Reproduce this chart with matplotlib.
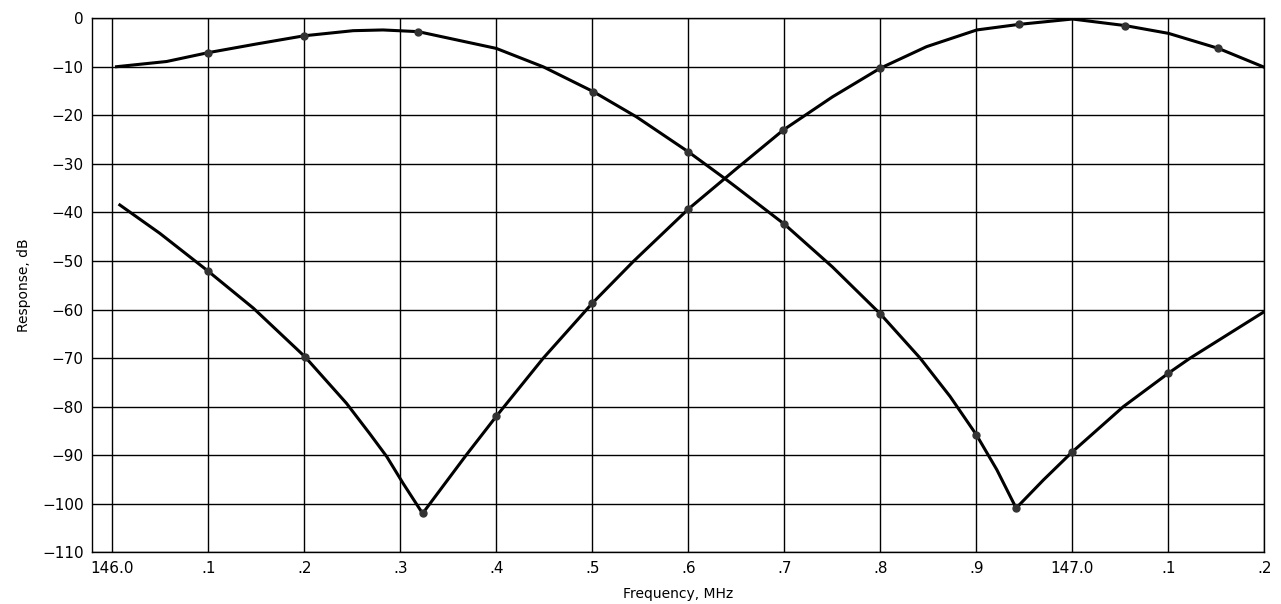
import matplotlib.pyplot as plt

# Curve A: starts near -10 dB, falls to a notch near 146.94 MHz
freq_a = [146.0046, 146.0567, 146.0994, 146.15, 146.2, 146.251, 146.282, 146.3188, 146.4, 146.449,
          146.501, 146.546, 146.6, 146.638, 146.65, 146.7, 146.75, 146.8,
          146.8414, 146.8726, 146.9, 146.9213, 146.9414, 146.9698, 146.9994, 147.053,
          147.1, 147.1226, 147.2]
resp_a = [-9.97, -8.9, -7.1, -5.3, -3.6, -2.55, -2.4, -2.75, -6.2, -10.0,
          -15.1, -20.3, -27.5, -33.0, -34.8, -42.4, -51.2, -60.9,
          -70.0, -77.9, -85.8, -93.0, -100.9, -95.1, -89.4, -80.0,
          -73.1, -70.0, -60.4]
mark_a_f = [146.0994, 146.2, 146.3188, 146.501, 146.6, 146.7, 146.8, 146.9, 146.9414, 146.9994, 147.1]
mark_a_r = [-7.1, -3.6, -2.75, -15.1, -27.5, -42.4, -60.9, -85.8, -100.9, -89.4, -73.1]

# Curve B: starts near -38 dB, notch near 146.32 MHz, peaks at 147.0 MHz
freq_b = [146.008, 146.0497, 146.0994, 146.147, 146.2007, 146.244, 146.268, 146.286, 146.303,
          146.3233, 146.369, 146.4, 146.449, 146.5, 146.5427, 146.6, 146.638, 146.65,
          146.699, 146.75, 146.7997, 146.848, 146.9004, 146.9445,
          147.0, 147.0549, 147.1, 147.152, 147.2]
resp_b = [-38.45, -44.3, -52.0, -59.7, -69.7, -79.3, -85.5, -90.3, -95.8,
          -102.0, -89.9, -82.0, -70.0, -58.7, -50.1, -39.3, -33.0, -31.0,
          -23.0, -16.2, -10.3, -5.85, -2.4, -1.25,
          -0.15, -1.5, -3.1, -6.2, -10.1]
mark_b_f = [146.0994, 146.2007, 146.3233, 146.4, 146.5, 146.6, 146.699, 146.7997, 146.9445, 147.0549, 147.152]
mark_b_r = [-52.0, -69.7, -102.0, -82.0, -58.7, -39.3, -23.0, -10.3, -1.25, -1.5, -6.2]

x_ticks = [146.0, 146.1, 146.2, 146.3, 146.4, 146.5, 146.6, 146.7, 146.8, 146.9, 147.0, 147.1, 147.2]
x_labels = ["146.0", ".1", ".2", ".3", ".4", ".5", ".6", ".7", ".8", ".9", "147.0", ".1", ".2"]
y_ticks = list(range(-110, 1, 10))

fig = plt.figure(figsize=(12.81, 6.04), dpi=100)
ax = fig.add_axes([0.0718, 0.0856, 0.9153, 0.8841])

ax.plot(freq_a, resp_a, color="black", linewidth=2.2, solid_joinstyle="round", zorder=3)
ax.plot(freq_b, resp_b, color="black", linewidth=2.2, solid_joinstyle="round", zorder=3)
ax.plot(mark_a_f, mark_a_r, "o", color="#333333", markersize=5, zorder=4)
ax.plot(mark_b_f, mark_b_r, "o", color="#333333", markersize=5, zorder=4)

ax.set_xlim(145.979, 147.2)
ax.set_ylim(-110, 0)
ax.set_xticks(x_ticks)
ax.set_xticklabels(x_labels)
ax.set_yticks(y_ticks)
ax.grid(True, color="black", linewidth=1.0)
ax.set_axisbelow(True)
ax.tick_params(length=0, labelsize=11, pad=6)
for s in ax.spines.values():
    s.set_linewidth(1.0)

ax.set_xlabel("Frequency, MHz", fontsize=10, labelpad=8)
ax.set_ylabel("Response, dB", fontsize=10, labelpad=8)

fig.savefig("out.png", dpi=100)
